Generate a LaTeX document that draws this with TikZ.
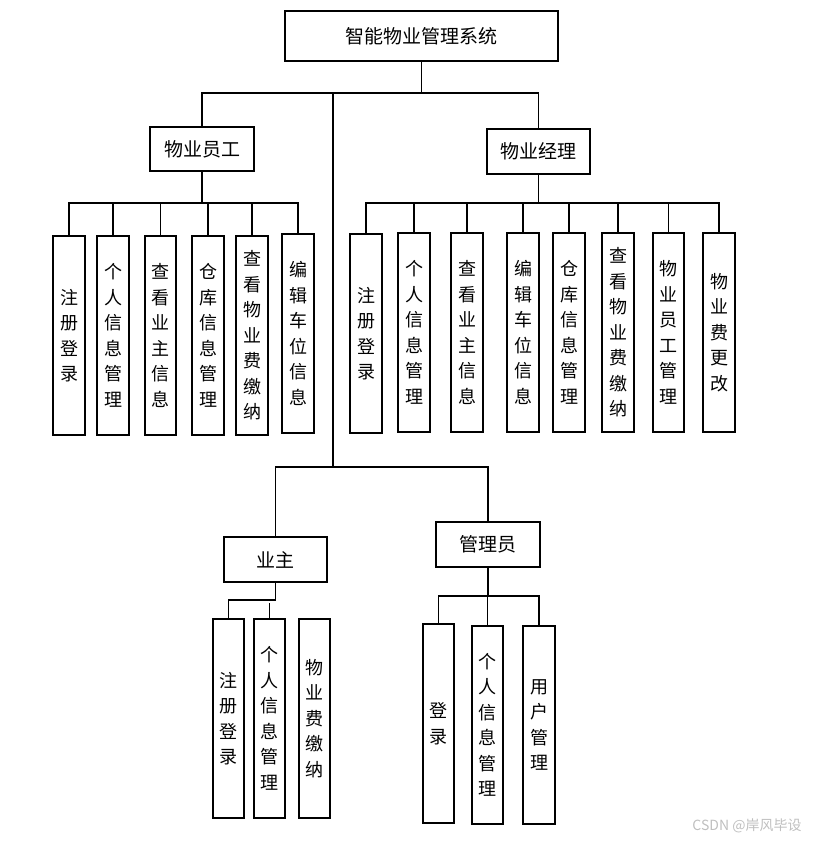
\documentclass[tikz,border=0pt]{standalone}
\usepackage{fontspec}
\newfontfamily\cjk{Noto Sans CJK SC}
\begin{document}
\begin{tikzpicture}[x=1pt,y=-1pt,
  ln/.style={line width=1.1pt},
  thickln/.style={line width=2.4pt},
  box/.style={draw,line width=1.1pt,inner sep=0pt,align=center,
    font=\cjk\fontsize{18}{25.5}\selectfont},
  hbox/.style={box,font=\cjk\fontsize{19}{21}\selectfont},
  vbox/.style={box,minimum width=32,minimum height=199}]
\useasboundingbox (0,0) rectangle (817,842);
% top level
\node[hbox,minimum width=273,minimum height=50] (top) at (421.5,36) {智能物业管理系统};
\node[hbox,minimum width=104,minimum height=44] (emp) at (202,149) {物业员工};
\node[hbox,minimum width=103,minimum height=45] (mgr) at (538.5,151.5) {物业经理};
\node[hbox,minimum width=103,minimum height=45] (own) at (275.5,559.5) {业主};
\node[hbox,minimum width=104,minimum height=45] (adm) at (488,544.5) {管理员};
% employee children
\node[vbox] (a1) at (69,335.5) {注\\册\\登\\录};
\node[vbox] (a2) at (113,335.5) {个\\人\\信\\息\\管\\理};
\node[vbox,minimum width=31] (a3) at (160.5,335.5) {查\\看\\业\\主\\信\\息};
\node[vbox] (a4) at (208,335.5) {仓\\库\\信\\息\\管\\理};
\node[vbox] (a5) at (252,335.5) {查\\看\\物\\业\\费\\缴\\纳};
\node[vbox] (a6) at (298,333.5) {编\\辑\\车\\位\\信\\息};
% manager children
\node[vbox] (b1) at (366,333.5) {注\\册\\登\\录};
\node[vbox] (b2) at (414,332.5) {个\\人\\信\\息\\管\\理};
\node[vbox] (b3) at (467,332.5) {查\\看\\业\\主\\信\\息};
\node[vbox] (b4) at (523,332.5) {编\\辑\\车\\位\\信\\息};
\node[vbox] (b5) at (569,332.5) {仓\\库\\信\\息\\管\\理};
\node[vbox] (b6) at (618,332.5) {查\\看\\物\\业\\费\\缴\\纳};
\node[vbox,minimum width=31] (b7) at (668.5,332.5) {物\\业\\员\\工\\管\\理};
\node[vbox] (b8) at (719,332.5) {物\\业\\费\\更\\改};
% owner children
\node[vbox,minimum width=31] (c1) at (228.5,718.5) {注\\册\\登\\录};
\node[vbox,minimum width=31] (c2) at (269.5,718.5) {个\\人\\信\\息\\管\\理};
\node[vbox,minimum width=31] (c3) at (314.5,718.5) {物\\业\\费\\缴\\纳};
% admin children
\node[vbox,minimum width=31] (d1) at (438.5,723.5) {登\\录};
\node[vbox,minimum width=31,minimum height=198] (d2) at (487.5,725) {个\\人\\信\\息\\管\\理};
\node[vbox,minimum width=32,minimum height=198] (d3) at (539,725) {用\\户\\管\\理};
% bus coordinates
\coordinate (bus1) at (0,93);
\coordinate (bus2) at (0,467);
\coordinate (bus3) at (0,203);
\coordinate (bus4) at (0,600);
\coordinate (bus5) at (0,596);
\coordinate (stub) at (0,603);
\coordinate (trunk) at (333,93);
% top connectors
\draw[ln] (top.south) -- (top.south |- bus1);
\draw[ln] (emp.north) |- (mgr.north |- bus1) -- (mgr.north);
\draw[ln] (trunk) -- (trunk |- bus2);
\draw[ln] (own.north) |- (adm.north |- bus2) -- (adm.north);
% employee connectors
\draw[thickln] (emp.south) -- (emp.south |- bus3);
\draw[ln] (a1.north) |- (a6.north |- bus3) -- (a6.north);
\draw[thickln] (a3.north |- bus3) -- (a4.north |- bus3);
\foreach \n in {a2,a3,a4,a5} \draw[ln] (\n.north) -- (\n.north |- bus3);
% manager connectors
\draw[ln] (mgr.south) -- (mgr.south |- bus3);
\draw[ln] (b1.north) |- (b8.north |- bus3) -- (b8.north);
\foreach \n in {b2,b3,b4,b5,b6,b7} \draw[ln] (\n.north) -- (\n.north |- bus3);
% owner connectors
\draw[ln] (own.south) |- (c1.north |- bus4) -- (c1.north);
\draw[ln] (c2.north) -- (c2.north |- stub);
% admin connectors
\draw[ln] (adm.south) -- (adm.south |- bus5);
\draw[ln] (d1.north) |- (d3.north |- bus5) -- (d3.north);
\draw[ln] (d2.north) -- (d2.north |- bus5);
% watermark
\node[text=black!25,font=\cjk\fontsize{14}{16}\selectfont,inner sep=0pt] (wm) at (747,826) {CSDN @岸风毕设};
\end{tikzpicture}
\end{document}
